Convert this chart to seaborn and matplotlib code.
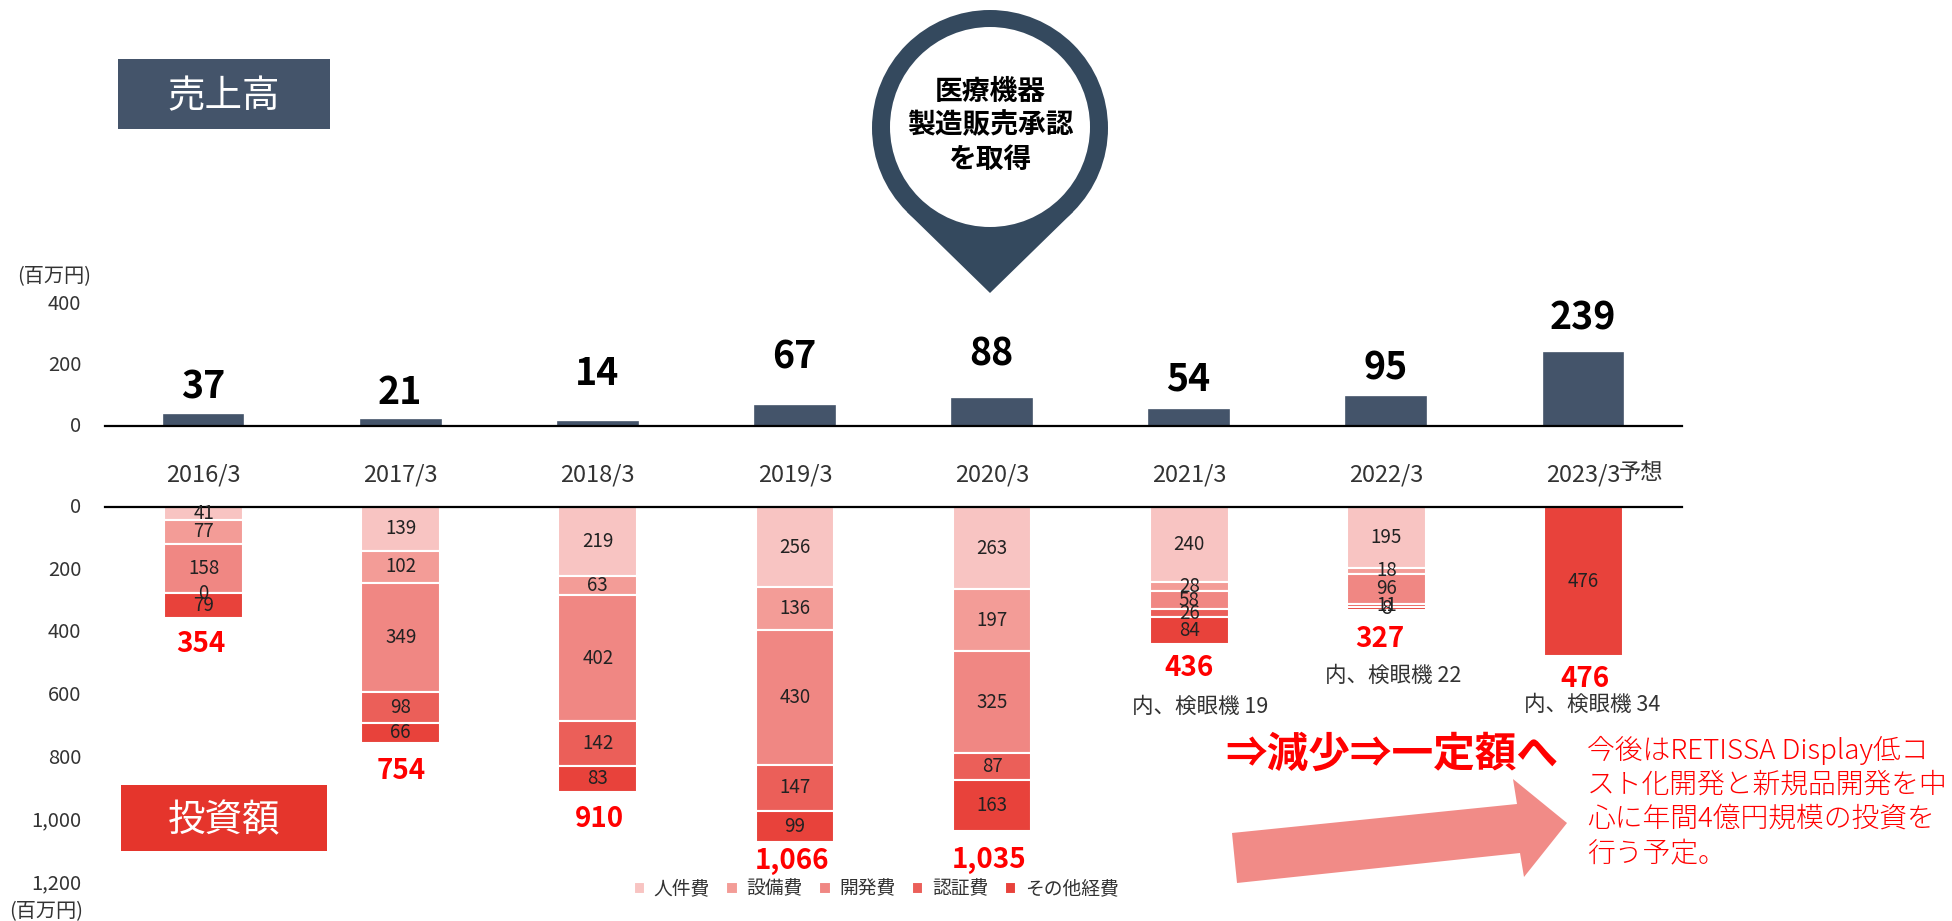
import numpy as np
import matplotlib
matplotlib.use("Agg")
import matplotlib.pyplot as plt
from matplotlib.patches import Polygon, Circle, Rectangle
from matplotlib.ticker import FuncFormatter
from matplotlib.transforms import ScaledTranslation
import seaborn as sns

sns.set_theme(style="white")
plt.rcParams['font.family'] = ['Noto Sans CJK JP', 'DejaVu Sans']

years = ["2016/3", "2017/3", "2018/3", "2019/3", "2020/3", "2021/3", "2022/3", "2023/3"]
sales = [37, 21, 14, 67, 88, 54, 95, 239]
personnel = [41, 139, 219, 256, 263, 240, 195, 0]
equipment = [77, 102, 63, 136, 197, 28, 18, 0]
development = [158, 349, 402, 430, 325, 58, 96, 0]
certification = [0, 98, 142, 147, 87, 26, 11, 0]
other = [79, 66, 83, 99, 163, 84, 8, 476]
totals = [354, 754, 910, 1066, 1035, 436, 327, 476]
cost_names = ["人件費", "設備費", "開発費", "認証費", "その他経費"]
cost_series = [personnel, equipment, development, certification, other]
inspection_notes = {5: "内、検眼機 19", 6: "内、検眼機 22", 7: "内、検眼機 34"}

# --- layout and style (separate from the data) ---
W, H = 1952, 921
NAVY = "#44546A"
PIN = "#34495E"
RED = "#FF0000"
BOX_RED = "#E5352C"
ARROW = "#F18B87"
cost_colors = ["#F8C4C2", "#F39C97", "#F08783", "#EB5F59", "#E8423B"]
sales_label_y = [387, 392, 373, 357, 354, 379, 368, 318]
total_label_x = [201, 401, 599, 792, 989, 1189, 1380, 1585]
total_label_y = [644, 771, 819, 861, 860, 668, 639, 679]
note_pos = {5: (1200, 707), 6: (1393, 676), 7: (1592, 705)}


def px_axes(x0, x1, y_top, y_bottom):
    return fig.add_axes([x0 / W, 1 - y_bottom / H, (x1 - x0) / W, (y_bottom - y_top) / H])


def nudge_up(labels, px):
    for lab in labels:
        lab.set_transform(lab.get_transform() + ScaledTranslation(0, px / 100, fig.dpi_scale_trans))


fig = plt.figure(figsize=(W / 100, H / 100), dpi=100, facecolor="white")

# Sales panel
ax_top = px_axes(105, 1682, 304, 426)
sns.barplot(x=years, y=sales, color=NAVY, saturation=1, width=0.405,
            edgecolor=NAVY, linewidth=1.2, ax=ax_top)
ax_top.set_xlim(-0.5, 7.5)
ax_top.set_ylim(0, 400)
ax_top.set_yticks([0, 200, 400])
ax_top.set_xticks(range(len(years)))
ax_top.set_xticklabels(years)
ax_top.tick_params(axis="y", length=0, pad=17, labelsize=14.5, labelcolor="#333333")
ax_top.tick_params(axis="x", length=0, pad=27, labelsize=17, labelcolor="#333333")
nudge_up(ax_top.get_yticklabels(), 2)
sns.despine(ax=ax_top, left=True)
ax_top.spines["bottom"].set_color("black")
ax_top.spines["bottom"].set_linewidth(1.6)
ax_top.set_xlabel("")
ax_top.set_ylabel("")
ax_top.patch.set_alpha(0)

# Investment panel
ax_bot = px_axes(105, 1682, 507, 883)
bottoms = np.zeros(len(years))
for name, vals, col in zip(cost_names, cost_series, cost_colors):
    sns.barplot(x=years, y=vals, bottom=bottoms, color=col, saturation=1, width=0.4,
                edgecolor="white", linewidth=1.5, label=name, ax=ax_bot, legend=False)
    labels = ["" if (i == 7 and name != "その他経費") else str(v) for i, v in enumerate(vals)]
    ax_bot.bar_label(ax_bot.containers[-1], labels=labels, label_type="center",
                     fontsize=13.5, color="#222222")
    bottoms += np.array(vals)
ax_bot.set_xlim(-0.5, 7.5)
ax_bot.set_ylim(1200, 0)
ax_bot.set_yticks(range(0, 1201, 200))
ax_bot.yaxis.set_major_formatter(FuncFormatter(lambda v, _: f"{int(v):,}"))
ax_bot.set_xticks([])
ax_bot.tick_params(axis="y", length=0, pad=17, labelsize=14.5, labelcolor="#333333")
nudge_up(ax_bot.get_yticklabels(), 2)
for s in ["left", "right", "bottom"]:
    ax_bot.spines[s].set_visible(False)
ax_bot.spines["top"].set_visible(True)
ax_bot.spines["top"].set_color("black")
ax_bot.spines["top"].set_linewidth(1.6)
ax_bot.set_xlabel("")
ax_bot.set_ylabel("")
ax_bot.patch.set_alpha(0)

handles = [c[0] for c in ax_bot.containers]
fig.legend(handles, cost_names, loc="center", bbox_to_anchor=(876 / W, 1 - 889 / H), ncol=5,
           frameon=False, fontsize=13.5, handlelength=0.6, handleheight=0.6, handletextpad=0.45,
           columnspacing=0.9, labelcolor="#333333")

# Overlay in pixel coordinates for annotations
ov = fig.add_axes([0, 0, 1, 1], zorder=5)
ov.set_xlim(0, W)
ov.set_ylim(H, 0)
ov.axis("off")
ov.patch.set_alpha(0)

for i, v in enumerate(sales):
    ov.text(203 + 197.1 * i, sales_label_y[i], str(v), ha="center", va="center",
            fontsize=27, fontweight="bold", color="black")
for i, v in enumerate(totals):
    ov.text(total_label_x[i], total_label_y[i], f"{v:,}", ha="center", va="center",
            fontsize=20, fontweight="bold", color=RED)
for i, note in inspection_notes.items():
    ov.text(*note_pos[i], note, ha="center", va="center", fontsize=15.5, color="#333333")

ov.text(1641, 472, "予想", ha="center", va="center", fontsize=16, color="#333333")
ov.text(54, 277, "(百万円)", ha="center", va="center", fontsize=14.5, color="#333333")
ov.text(46, 912, "(百万円)", ha="center", va="center", fontsize=14.5, color="#333333")

# Section boxes
ov.add_patch(Rectangle((118, 59), 212, 70, color=NAVY, lw=0))
ov.text(224, 97, "売上高", ha="center", va="center", fontsize=27, color="white")
ov.add_patch(Rectangle((121, 785), 206, 66, color=BOX_RED, lw=0))
ov.text(224, 821, "投資額", ha="center", va="center", fontsize=27, color="white")

# Map pin
ov.add_patch(Polygon([(907, 212), (1073, 212), (990, 293)], closed=True, color=PIN, lw=0))
ov.add_patch(Circle((990, 128), 118, color=PIN, lw=0))
ov.add_patch(Circle((990, 127), 100, color="white", lw=0))
for yy, line in zip([92, 125, 160], ["医療機器", "製造販売承認", "を取得"]):
    ov.text(990, yy, line, ha="center", va="center", fontsize=20, fontweight="bold", color="black")

# Trend arrow
ov.add_patch(Polygon([(1232, 833), (1517, 804), (1513, 779), (1567, 823),
                      (1524, 877), (1520, 853), (1237, 883)], closed=True, color=ARROW, lw=0))
ov.text(1392, 755, "⇒減少⇒一定額へ", ha="center", va="center", fontsize=30,
        fontweight="bold", color=RED)

outlook = ["今後はRETISSA Display低コ", "スト化開発と新規品開発を中",
           "心に年間4億円規模の投資を", "行う予定。"]
for yy, line in zip([750, 785, 819, 853], outlook):
    ov.text(1587, yy, line, ha="left", va="center", fontsize=20, color=RED, fontweight="light")

fig.savefig("out.png", dpi=100)
